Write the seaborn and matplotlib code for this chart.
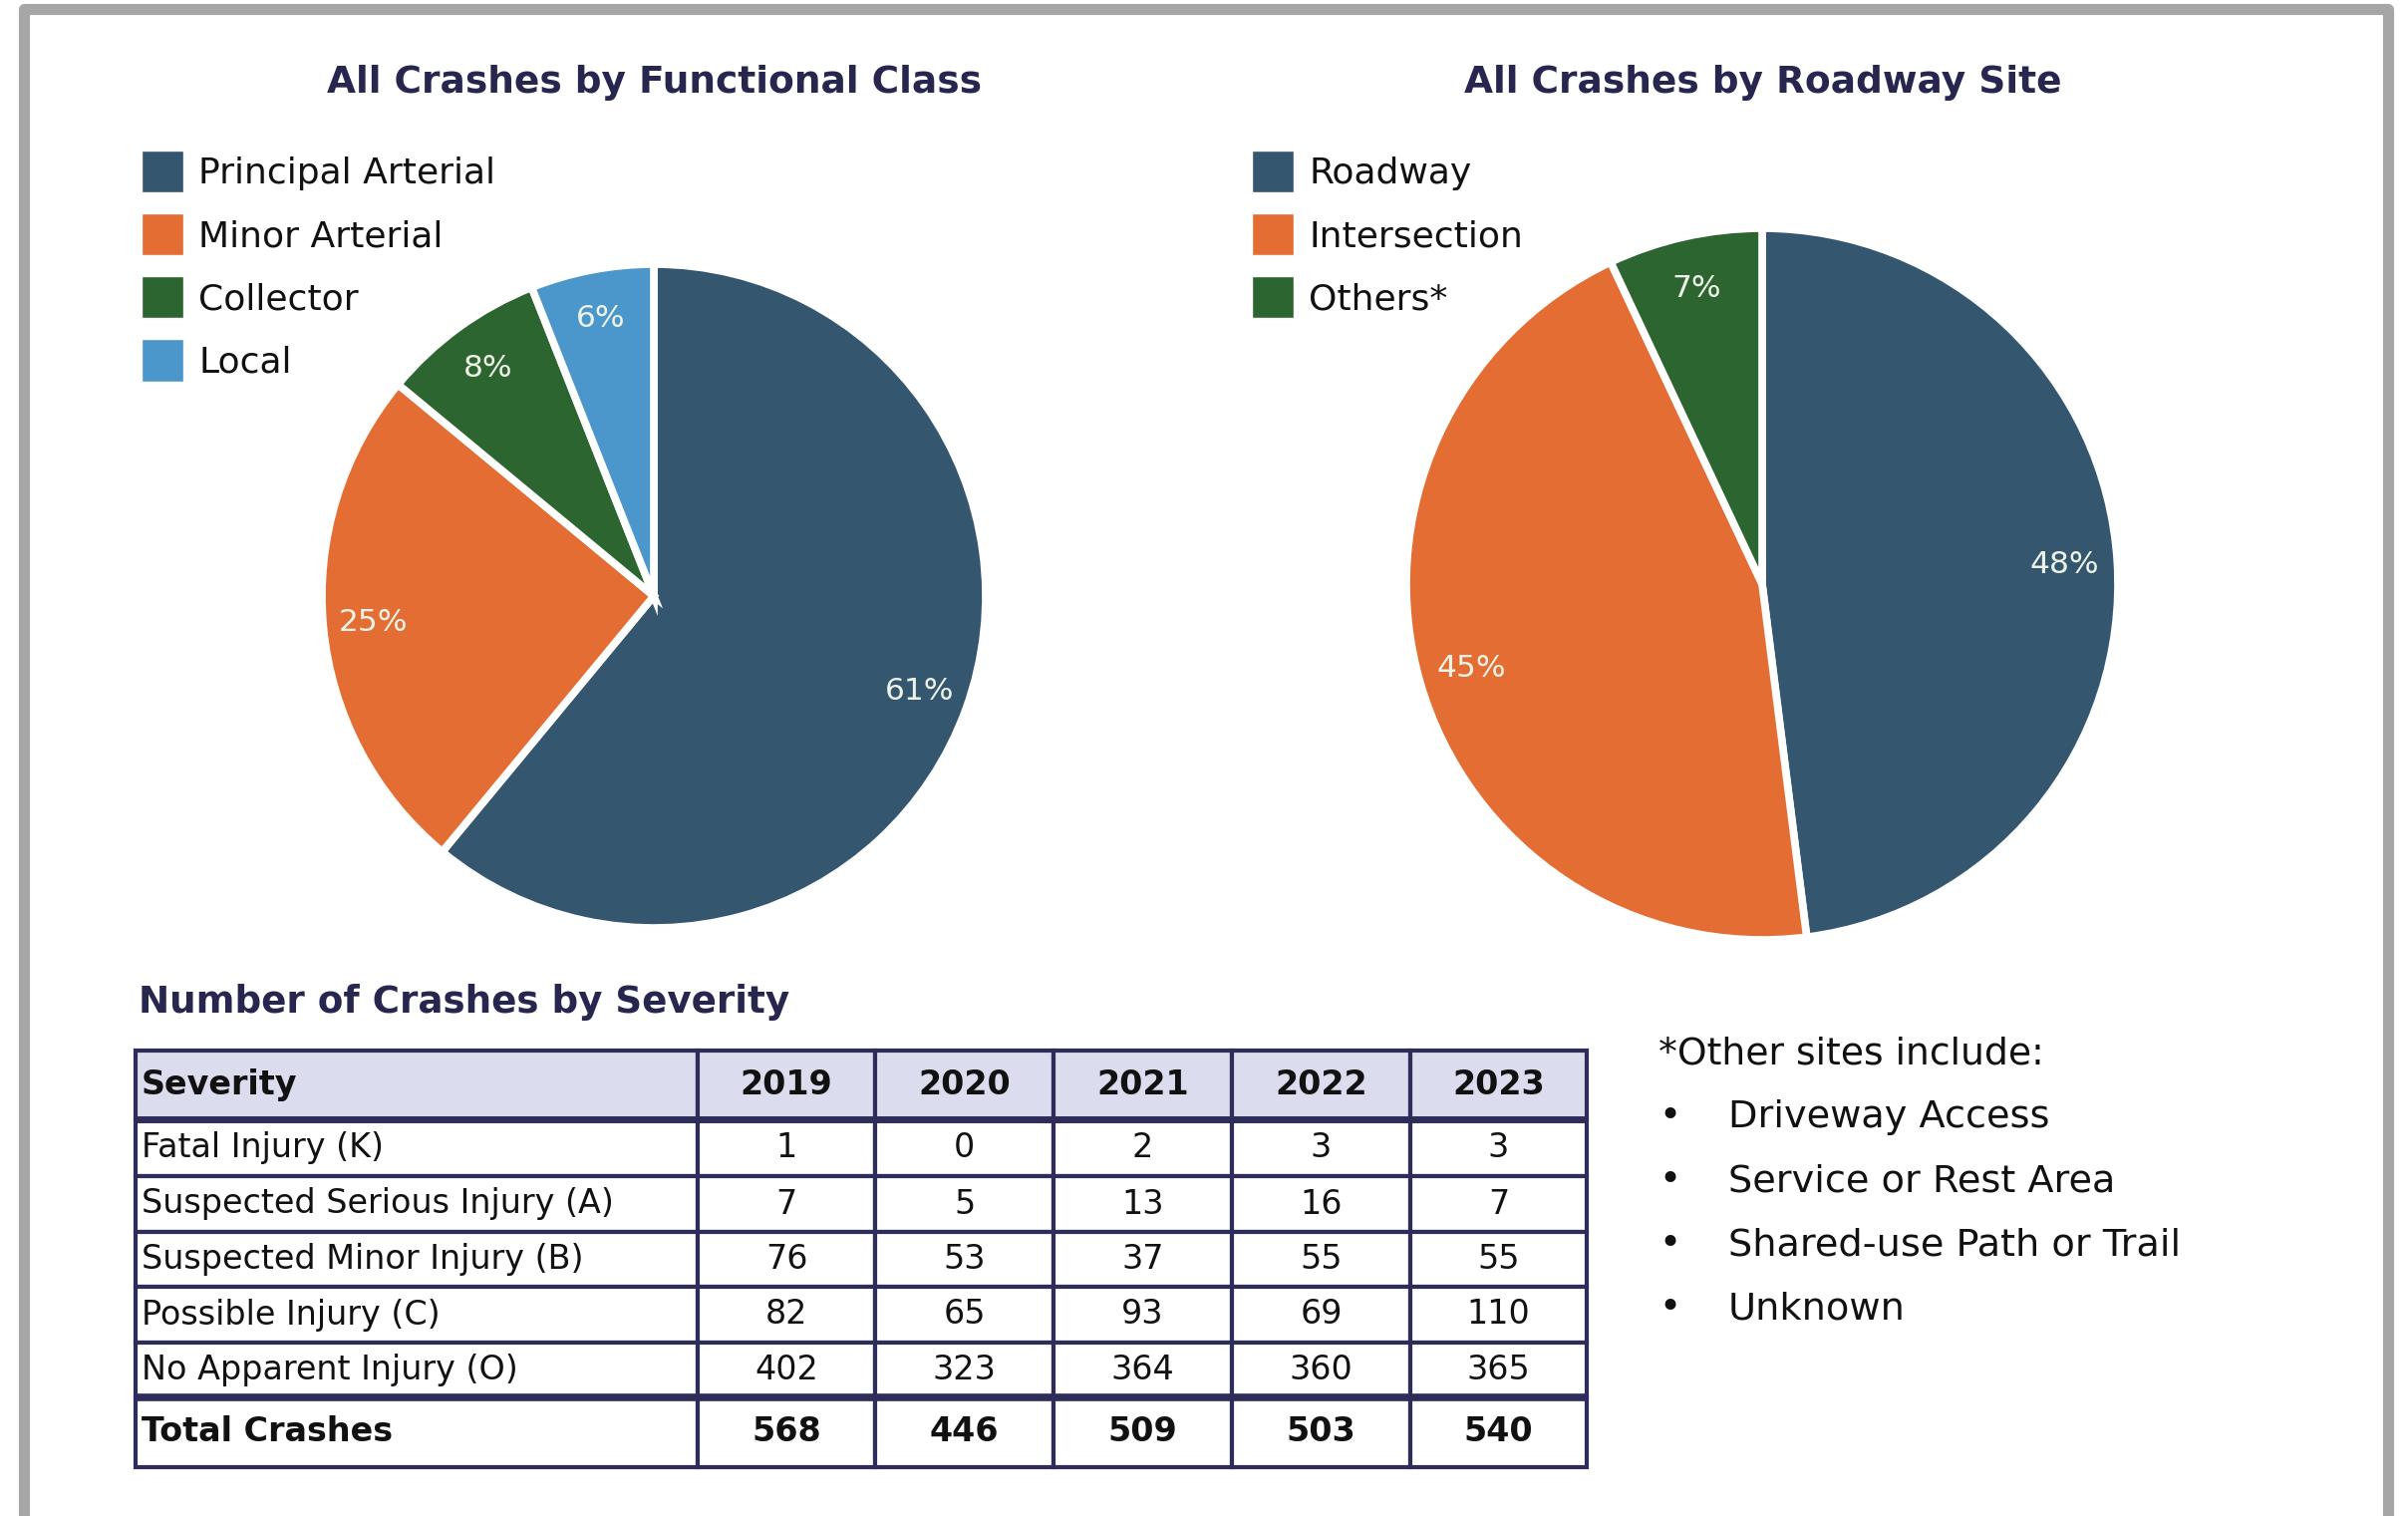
import numpy as np
import pandas as pd
import matplotlib
matplotlib.use('Agg')
import matplotlib.pyplot as plt
from matplotlib.patches import Patch, Rectangle
import seaborn as sns

# ---- data ----
class_labels = ['Principal Arterial', 'Minor Arterial', 'Collector', 'Local']
class_pct = [61, 25, 8, 6]
site_labels = ['Roadway', 'Intersection', 'Others*']
site_pct = [48, 45, 7]

severity = ['Fatal Injury (K)', 'Suspected Serious Injury (A)', 'Suspected Minor Injury (B)',
            'Possible Injury (C)', 'No Apparent Injury (O)']
years = ['2019', '2020', '2021', '2022', '2023']
crashes_2019 = [1, 7, 76, 82, 402]
crashes_2020 = [0, 5, 53, 65, 323]
crashes_2021 = [2, 13, 37, 93, 364]
crashes_2022 = [3, 16, 55, 69, 360]
crashes_2023 = [3, 7, 55, 110, 365]
other_sites = ['Driveway Access', 'Service or Rest Area', 'Shared-use Path or Trail', 'Unknown']

sns.set_theme(style='white')
plt.rcParams['font.family'] = ['DejaVu Sans']

pal_class = sns.color_palette(['#35566f', '#e46d34', '#2d6530', '#4b96cb'])
pal_site = pal_class[:3]
TITLE_C = '#27264f'
GRID_C = '#2e2d5a'

W, H = 2416, 1521
fig = plt.figure(figsize=(W / 100, H / 100), dpi=100)
fig.patch.set_facecolor('white')


def rect(x0, y0, w, h):
    return [x0 / W, 1 - (y0 + h) / H, w / W, h / H]


# outer grey frame
fig.patches.append(Rectangle((24 / W, -0.05), (2396 - 24) / W, 1.05 - 9 / H,
                             transform=fig.transFigure, fill=False,
                             edgecolor='#a6a6a6', lw=8, joinstyle='round'))


def draw_pie(cx, cy, r, values, colors):
    ax = fig.add_axes(rect(cx - r, cy - r, 2 * r, 2 * r))
    ax.pie(values, colors=colors, startangle=90, counterclock=False,
           autopct='%.0f%%', pctdistance=0.85,
           wedgeprops=dict(edgecolor='white', linewidth=5.5),
           textprops=dict(color='#eef3e8', fontsize=22.5))
    ax.set_xlim(-1, 1)
    ax.set_ylim(-1, 1)
    ax.set_aspect('equal')
    ax.axis('off')
    return ax


draw_pie(656, 598, 333, class_pct, pal_class)
draw_pie(1768, 586, 357, site_pct, pal_site)

fig.text(656 / W, 1 - 83 / H, 'All Crashes by Functional Class', ha='center', va='center',
         fontsize=27, fontweight='bold', color=TITLE_C)
fig.text(1769 / W, 1 - 83 / H, 'All Crashes by Roadway Site', ha='center', va='center',
         fontsize=27, fontweight='bold', color=TITLE_C)

leg_kw = dict(loc='upper left', frameon=False, fontsize=26, handlelength=1.17,
              handleheight=1.42, labelspacing=0.58, handletextpad=0.42,
              borderpad=0, borderaxespad=0, labelcolor='#111111')
fig.legend([Patch(facecolor=c) for c in pal_class], class_labels,
           bbox_to_anchor=(142 / W, 1 - 151 / H), **leg_kw)
fig.legend([Patch(facecolor=c) for c in pal_site], site_labels,
           bbox_to_anchor=(1256 / W, 1 - 151 / H), **leg_kw)

# ---- table ----
fig.text(139 / W, 1 - 1005 / H, 'Number of Crashes by Severity', ha='left', va='center',
         fontsize=26.8, fontweight='bold', color=TITLE_C)

df = pd.DataFrame({'Severity': severity, '2019': crashes_2019, '2020': crashes_2020,
                   '2021': crashes_2021, '2022': crashes_2022, '2023': crashes_2023})
totals = ['Total Crashes'] + [str(df[y].sum()) for y in years]
cell_text = [list(df.columns)] + [[r[0]] + [str(v) for v in r[1:]] for r in df.values.tolist()] + [totals]

col_w = np.array([564, 178, 179, 179, 179, 177], float)
row_h = np.array([69, 57, 56, 55, 56, 55, 70], float)

ax_t = fig.add_axes(rect(136, 1054, 1456, 418))
ax_t.axis('off')
tbl = ax_t.table(cellText=cell_text, colWidths=list(col_w / col_w.sum()),
                 cellLoc='center', bbox=[0, 0, 1, 1])
tbl.auto_set_font_size(False)
for (r, c), cell in tbl.get_celld().items():
    cell.set_height(row_h[r] / row_h.sum())
    cell.set_edgecolor(GRID_C)
    cell.set_linewidth(3)
    cell.set_facecolor('#dcdcef' if r == 0 else 'white')
    bold = r == 0 or r == len(row_h) - 1
    cell.set_text_props(fontsize=24, color='#111111',
                        fontweight='bold' if bold else 'normal',
                        ha='left' if c == 0 else 'center')
    cell.PAD = 0.01

y_head = 1 - row_h[0] / row_h.sum()
y_tot = row_h[-1] / row_h.sum()
ax_t.axhline(y_head, color=GRID_C, lw=5)
ax_t.axhline(y_tot, color=GRID_C, lw=5.5)

# ---- footnote ----
fig.text(1664 / W, 1 - 1057 / H, '*Other sites include:', ha='left', va='center',
         fontsize=27.2, color='#111111')
for i, s in enumerate(other_sites):
    y = 1 - (1121 + 64 * i) / H
    fig.text(1675 / W, y, '\u2022', ha='center', va='center', fontsize=27, color='#111111')
    fig.text(1734 / W, y, s, ha='left', va='center', fontsize=27.5, color='#111111')

fig.savefig('out.png', dpi=100, facecolor='white')
